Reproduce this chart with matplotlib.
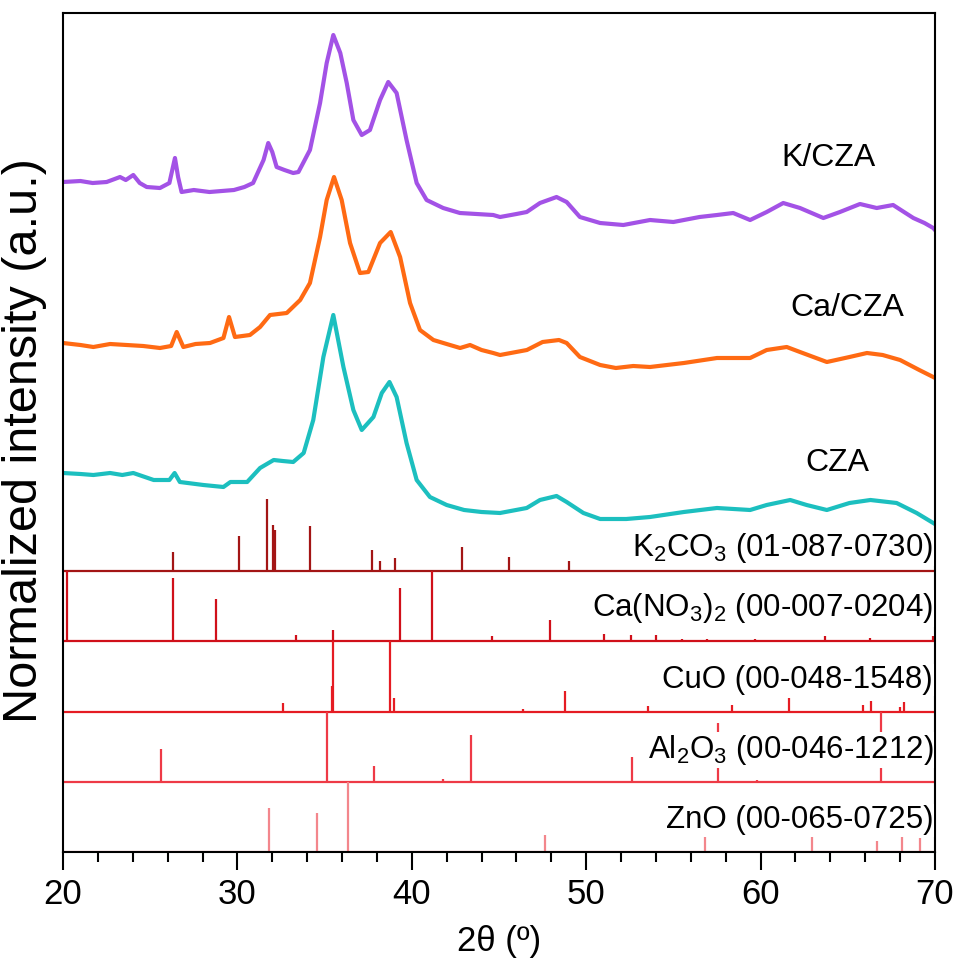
import matplotlib
matplotlib.use("Agg")
import matplotlib.pyplot as plt
from matplotlib.ticker import MultipleLocator

plt.rcParams['font.family'] = ['Liberation Sans', 'DejaVu Sans']
plt.rcParams['mathtext.fontset'] = 'custom'
plt.rcParams['mathtext.rm'] = 'Liberation Sans'

# measured XRD patterns (2theta, intensity above each pattern's own offset)
k_tt = [20.0, 21.0, 21.7, 22.5, 23.27, 23.6, 24.03, 24.4, 24.8, 25.56, 26.1, 26.42,
        26.6, 26.8, 27.5, 28.4, 29.8, 30.4, 30.9, 31.5, 31.77, 32.0, 32.25, 32.7,
        33.2, 33.5, 34.16, 34.74, 35.12, 35.5, 35.9, 36.27, 36.65, 37.13, 37.6,
        38.18, 38.65, 39.13, 39.7, 40.28, 40.85, 41.8, 42.76, 44.67, 45.06, 46.0,
        46.59, 47.35, 48.3, 48.88, 49.64, 50.8, 52.13, 53.66, 55.0, 56.5, 57.5,
        58.43, 59.4, 60.35, 61.3, 62.26, 63.6, 64.55, 65.7, 66.66, 67.6, 68.76,
        69.4, 69.9, 70.0]
k_int = [50, 51, 49, 50, 55, 52, 57, 49, 45, 44, 49, 74,
         55, 40, 42, 40, 42, 45, 49, 72, 89, 80, 65, 62,
         59, 60, 82, 129, 169, 197, 179, 149, 112, 97, 102,
         132, 150, 139, 92, 49, 32, 24, 19, 17, 15, 18,
         20, 29, 35, 30, 15, 9, 7, 12, 10, 15, 17,
         19, 12, 20, 29, 24, 14, 20, 28, 24, 27, 14,
         9, 4, 2]

ca_tt = [20.0, 21.0, 21.74, 22.7, 23.65, 24.6, 25.56, 26.2, 26.52, 26.9, 27.6, 28.43,
         29.2, 29.52, 29.86, 30.72, 31.3, 31.87, 32.83, 33.6, 34.16, 34.74, 35.12,
         35.54, 35.98, 36.46, 37.03, 37.51, 38.18, 38.79, 39.33, 39.9, 40.47, 41.24,
         42.0, 42.77, 43.34, 44.0, 44.67, 45.06, 46.6, 47.5, 48.44, 48.88, 49.64,
         50.8, 51.7, 52.7, 53.66, 55.6, 57.5, 59.4, 60.35, 61.5, 62.26, 63.8, 65.1,
         66.1, 67.0, 68.0, 69.1, 69.9]
ca_int = [39, 37, 35, 38, 37, 36, 34, 36, 50, 35, 38, 39,
          44, 65, 45, 47, 55, 67, 69, 82, 99, 145, 182,
          205, 182, 139, 109, 110, 139, 150, 125, 79, 52, 42,
          38, 34, 37, 32, 29, 27, 32, 40, 42, 39, 25,
          17, 14, 16, 15, 19, 24, 24, 32, 35, 30, 20, 25,
          29, 27, 22, 12, 5]

cza_tt = [20.0, 21.0, 21.74, 22.7, 23.4, 24.03, 25.2, 26.1, 26.4, 26.7, 28.05, 29.2,
          29.6, 30.56, 31.3, 32.08, 32.6, 33.2, 33.8, 34.35, 34.93, 35.5, 36.08,
          36.65, 37.13, 37.8, 38.28, 38.72, 39.13, 39.7, 40.28, 41.04, 42.0, 43.0,
          44.0, 45.06, 46.59, 47.35, 48.3, 48.88, 49.84, 50.8, 52.3, 53.66, 55.6,
          57.5, 59.4, 60.35, 61.7, 62.64, 63.8, 65.1, 66.3, 67.8, 68.95, 69.9]
cza_int = [59, 58, 57, 59, 57, 59, 52, 52, 59, 50, 47, 45,
           50, 50, 64, 72, 71, 70, 79, 112, 175, 217, 165,
           122, 102, 115, 139, 150, 135, 89, 52, 35, 27, 22,
           20, 19, 24, 32, 36, 30, 19, 13, 13, 15, 20,
           24, 22, 27, 32, 27, 22, 29, 32, 29, 19, 9]

samples = ['K/CZA', 'Ca/CZA', 'CZA']
sample_tt = [k_tt, ca_tt, cza_tt]
sample_int = [k_int, ca_int, cza_int]

# reference cards: peak positions (2theta) and relative intensities (%)
ref_names = [r'K$_2$CO$_3$ (01-087-0730)', r'Ca(NO$_3$)$_2$ (00-007-0204)',
             'CuO (00-048-1548)', r'Al$_2$O$_3$ (00-046-1212)', 'ZnO (00-065-0725)']
k2co3_pos = [26.28, 30.1, 31.7, 32.02, 32.15, 34.19, 37.73, 38.2, 39.02, 42.9, 45.55, 49.0]
k2co3_rel = [27, 50, 103, 66, 59, 64, 30, 14, 19, 34, 20, 14]
cano3_pos = [20.22, 26.28, 28.8, 33.35, 35.5, 39.3, 41.15, 44.6, 47.9, 51.0, 52.55,
             54.03, 55.5, 56.9, 59.7, 63.7, 66.3, 69.9]
cano3_rel = [100, 91, 61, 9, 16, 76, 100, 8, 31, 11, 9, 9, 3, 3, 3, 7, 5, 7]
cuo_pos = [32.6, 35.44, 35.51, 38.77, 38.96, 46.35, 48.8, 51.4, 53.54, 58.38, 61.64,
           65.9, 66.32, 68.0, 68.2]
cuo_rel = [12, 37, 100, 100, 20, 3, 29, 1.5, 8, 10, 20, 10, 15, 6, 13]
al2o3_pos = [25.6, 35.15, 37.83, 41.77, 43.41, 46.28, 52.64, 57.58, 59.8, 66.9]
al2o3_rel = [47, 100, 22, 4, 66, 1.5, 35, 84, 3, 100]
zno_pos = [31.8, 34.56, 36.34, 47.64, 56.8, 62.94, 66.68, 68.13, 69.16]
zno_rel = [63, 55, 100, 24, 36, 31, 16, 32, 20]
ref_pos = [k2co3_pos, cano3_pos, cuo_pos, al2o3_pos, zno_pos]
ref_rel = [k2co3_rel, cano3_rel, cuo_rel, al2o3_rel, zno_rel]

sample_colors = ['#a352e6', '#ff6a13', '#1cbfbf']
sample_offsets = [620, 470, 320]
label_xy = [(63.9, 694), (65.0, 544), (64.4, 389)]
ref_colors = ['#a31515', '#d0101a', '#e51c23', '#ee3a46', '#f3868c']
ref_label_frac = [0.33, 0.47, 0.45, 0.45, 0.45]
panel_h = 70.2

fig = plt.figure(figsize=(9.56, 9.64), dpi=100)
ax = fig.add_axes([0.0659, 0.1162, 0.9121, 0.8703])

for name, tt, inten, col, off, (lx, ly) in zip(samples, sample_tt, sample_int,
                                               sample_colors, sample_offsets, label_xy):
    ax.plot(tt, [v + off for v in inten], color=col, lw=3, solid_joinstyle='round')
    ax.text(lx, ly, name, color='black', fontsize=23, ha='center', va='center')

for i, (name, pos, rel, col) in enumerate(zip(ref_names, ref_pos, ref_rel, ref_colors)):
    base = (4 - i) * panel_h
    ax.vlines(pos, base, [base + r / 100 * panel_h for r in rel], color=col, lw=1.6)
    ax.axhline(base, color=col, lw=1.6, zorder=1.5)
    ax.text(69.9, base + ref_label_frac[i] * panel_h, name, fontsize=22.5, ha='right',
            va='center', bbox=dict(facecolor='white', edgecolor='none', pad=1), zorder=3)

ax.set_xlim(20, 70)
ax.set_ylim(0, 839)
ax.xaxis.set_major_locator(MultipleLocator(10))
ax.xaxis.set_minor_locator(MultipleLocator(2))
ax.tick_params(axis='x', which='major', direction='out', length=13, width=1.5,
               labelsize=25, pad=6)
ax.tick_params(axis='x', which='minor', direction='out', length=7, width=1.5)
ax.set_yticks([])
for s in ax.spines.values():
    s.set_linewidth(1.5)
ax.set_xlabel('2θ (º)', fontsize=25, labelpad=10)
ax.set_ylabel('Normalized intensity (a.u.)', fontsize=35)
ax.yaxis.set_label_coords(-0.018, 0.49)

fig.savefig('out.png', dpi=100)
